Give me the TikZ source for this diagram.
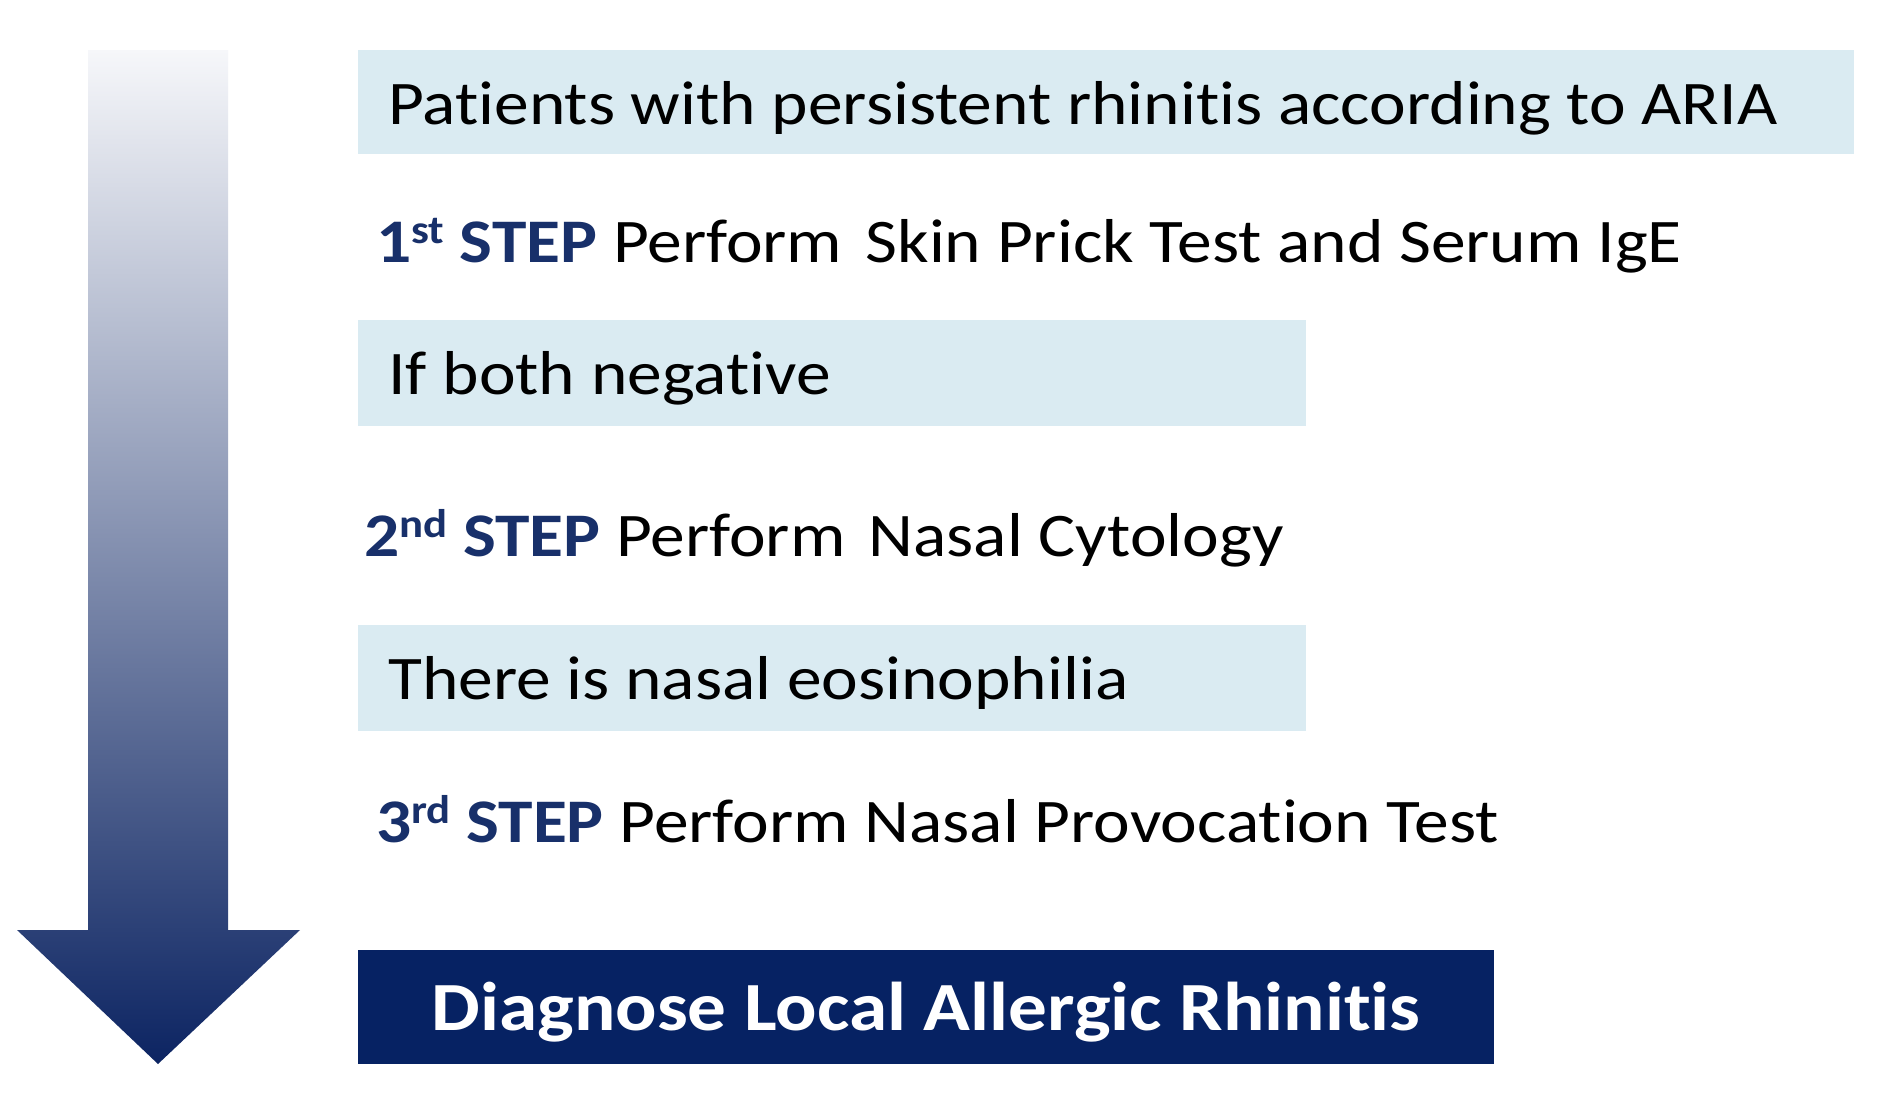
\documentclass[tikz,border=0pt]{standalone}
\usepackage{fontspec}
\setmainfont{Carlito}[FakeStretch=1.12, Ligatures=NoCommon]
\definecolor{lightbox}{HTML}{DAEBF2}
\definecolor{navy}{HTML}{062263}
\definecolor{stepblue}{HTML}{18306A}
\definecolor{arrowtop}{HTML}{F6F7FA}
\definecolor{arrowbot}{HTML}{0C2462}
\newcommand{\mysup}[1]{\raisebox{0.3em}{\fontsize{40}{42}\selectfont #1}}
\begin{document}
\begin{tikzpicture}[x=1pt,y=-1pt,
  box/.style={fill=lightbox, draw=none, inner sep=0pt, outer sep=0pt, anchor=north west},
  darkbox/.style={fill=navy, draw=none, inner sep=0pt, outer sep=0pt, anchor=north west},
  txt/.style={anchor=base west, inner sep=0pt, font=\fontsize{62}{66}\selectfont, text=black},
  wtxt/.style={anchor=base, inner sep=0pt, font=\fontsize{69}{72}\selectfont\bfseries, text=white}]
\useasboundingbox (0,0) rectangle (1882,1093);
\fill[white] (0,0) rectangle (1882,1093);
% gradient arrow
\shade[top color=arrowtop, bottom color=arrowbot]
  (88,50) -- (228,50) -- (228,930) -- (300,930) -- (158,1064) -- (17,930) -- (88,930) -- cycle;
% boxes
\node[box, minimum width=1496pt, minimum height=104pt] (b1) at (358,50) {};
\node[box, minimum width=948pt, minimum height=106pt] (b2) at (358,320) {};
\node[box, minimum width=948pt, minimum height=106pt] (b3) at (358,625) {};
\node[darkbox, minimum width=1136pt, minimum height=114pt] (b4) at (358,950) {};
% texts
\node[txt] (t1) at (388,124) {Patients with persistent rhinitis according to ARIA};
\node[txt] (s1) at (376,262) {{\color{stepblue}\bfseries 1\mysup{st} STEP} Perform\hspace{0.12em} Skin Prick Test and Serum IgE};
\node[txt] (t2) at (388,394) {If both negative};
\node[txt] (s2) at (364,556) {{\color{stepblue}\bfseries 2\mysup{nd} STEP} Perform\hspace{0.12em} Nasal Cytology};
\node[txt] (t3) at (388,699) {There is nasal eosinophilia};
\node[txt] (s3) at (376,842) {{\color{stepblue}\bfseries 3\mysup{rd} STEP} Perform Nasal Provocation Test};
\node[wtxt] (t4) at (926,1030) {Diagnose Local Allergic Rhinitis};
\end{tikzpicture}
\end{document}
